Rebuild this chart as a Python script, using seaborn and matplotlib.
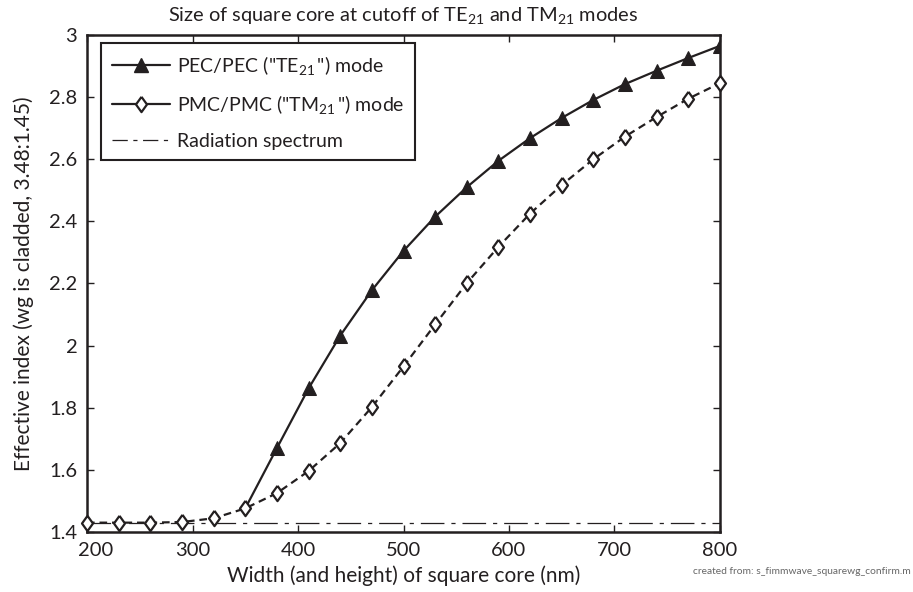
import matplotlib
matplotlib.use("Agg")
import matplotlib.pyplot as plt
import matplotlib.transforms as mtrans
import seaborn as sns
import pandas as pd
from matplotlib.lines import Line2D

# ---- data ----
widths_nm = [200, 230, 260, 290, 320, 350, 380, 410, 440, 470, 500,
             530, 560, 590, 620, 650, 680, 710, 740, 770, 800]
pmc_index = [1.430, 1.430, 1.430, 1.432, 1.444, 1.476, 1.525, 1.596, 1.686, 1.802, 1.933,
             2.068, 2.201, 2.318, 2.425, 2.517, 2.600, 2.673, 2.736, 2.795, 2.845]
pec_widths_nm = [350, 380, 410, 440, 470, 500, 530, 560, 590, 620, 650, 680, 710, 740, 770, 800]
pec_index = [1.476, 1.670, 1.862, 2.032, 2.178, 2.305, 2.415, 2.510, 2.595, 2.668,
             2.733, 2.791, 2.842, 2.885, 2.926, 2.965]
radiation_index = 1.43

x_ticks = [200, 300, 400, 500, 600, 700, 800]
y_ticks = [1.4, 1.6, 1.8, 2.0, 2.2, 2.4, 2.6, 2.8, 3.0]
y_tick_labels = ["1.4", "1.6", "1.8", "2", "2.2", "2.4", "2.6", "2.8", "3"]

title_text = "Size of square core at cutoff of TE$_{21}$ and TM$_{21}$ modes"
x_label = "Width (and height) of square core (nm)"
y_label = "Effective index (wg is cladded, 3.48:1.45)"
legend_labels = ['PEC/PEC ("TE$_{21}$\u2009") mode', 'PMC/PMC ("TM$_{21}$\u2009") mode',
                 "Radiation spectrum"]
footer_text = "created from: s_fimmwave_squarewg_confirm.m"

# ---- style ----
sns.set_style("ticks")
plt.rcParams["font.family"] = ["Lato", "DejaVu Sans"]
plt.rcParams["mathtext.fontset"] = "custom"
plt.rcParams["mathtext.rm"] = "Lato"
plt.rcParams["mathtext.it"] = "Lato:italic"
plt.rcParams["mathtext.bf"] = "Lato:bold"
plt.rcParams["lines.scale_dashes"] = False
INK = "#231f20"
plt.rcParams["text.color"] = INK
plt.rcParams["axes.labelcolor"] = INK
plt.rcParams["xtick.color"] = INK
plt.rcParams["ytick.color"] = INK

diamond = [(0, 1), (0.72, 0), (0, -1), (-0.72, 0), (0, 1)]

fig = plt.figure(figsize=(9.13, 5.92), dpi=100)
ax = fig.add_axes([0.0953, 0.1014, 0.6933, 0.8395])

pec_df = pd.DataFrame({"w": pec_widths_nm, "n": pec_index})
pmc_df = pd.DataFrame({"w": widths_nm, "n": pmc_index})

ax.axhline(radiation_index, color=INK, lw=0.9, linestyle=(0, (17, 5, 3, 5)), zorder=1)

sns.lineplot(data=pec_df, x="w", y="n", ax=ax, color=INK, lw=1.6,
             marker="^", markersize=10, markerfacecolor=INK, markeredgecolor=INK,
             markevery=list(range(1, len(pec_widths_nm))), errorbar=None, sort=False, zorder=2)
sns.lineplot(data=pmc_df, x="w", y="n", ax=ax, color=INK, lw=1.6,
             linestyle=(0, (5.5, 3.5)),
             marker=diamond, markersize=11, markerfacecolor="white", markeredgecolor=INK,
             markeredgewidth=1.6, errorbar=None, sort=False, zorder=3, clip_on=False)

ax.set_xlim(200, 800)
ax.set_ylim(1.4, 3.0)
ax.set_xticks(x_ticks)
ax.set_xticklabels([str(t) for t in x_ticks])
ax.set_yticks(y_ticks)
ax.set_yticklabels(y_tick_labels)
ax.tick_params(direction="in", top=True, right=True, length=5, width=1.0,
               labelsize=14.5, pad=7)
for s in ax.spines.values():
    s.set_linewidth(1.8)
    s.set_color(INK)

# nudge the first x tick label right, as in the reference
first = ax.xaxis.get_major_ticks()[0].label1
first.set_transform(first.get_transform() +
                    mtrans.ScaledTranslation(6 / 72, 0, fig.dpi_scale_trans))

ax.set_xlabel(x_label, fontsize=15, labelpad=5)
ax.set_ylabel(y_label, fontsize=15, labelpad=11)
ax.set_title(title_text, fontsize=14.4, pad=10)

handles = [
    Line2D([], [], color=INK, lw=1.6, marker="^", markersize=10, markerfacecolor=INK),
    Line2D([], [], color=INK, lw=1.6, marker=diamond, markersize=11,
           markerfacecolor="white", markeredgewidth=1.6),
    Line2D([], [], color=INK, lw=0.9, linestyle=(0, (11, 4, 3, 4))),
]
leg = ax.legend(handles, legend_labels, loc="upper left", bbox_to_anchor=(0.022, 0.984),
                fontsize=14, frameon=True, fancybox=False, framealpha=1,
                edgecolor=INK, handlelength=3.0, handletextpad=0.36,
                labelspacing=0.85, borderpad=0.55, borderaxespad=0)
leg.get_frame().set_linewidth(1.5)

fig.text(0.997, 0.027, footer_text, ha="right", va="bottom", fontsize=7.4, color="#666666")

fig.savefig("out.png", dpi=100)
